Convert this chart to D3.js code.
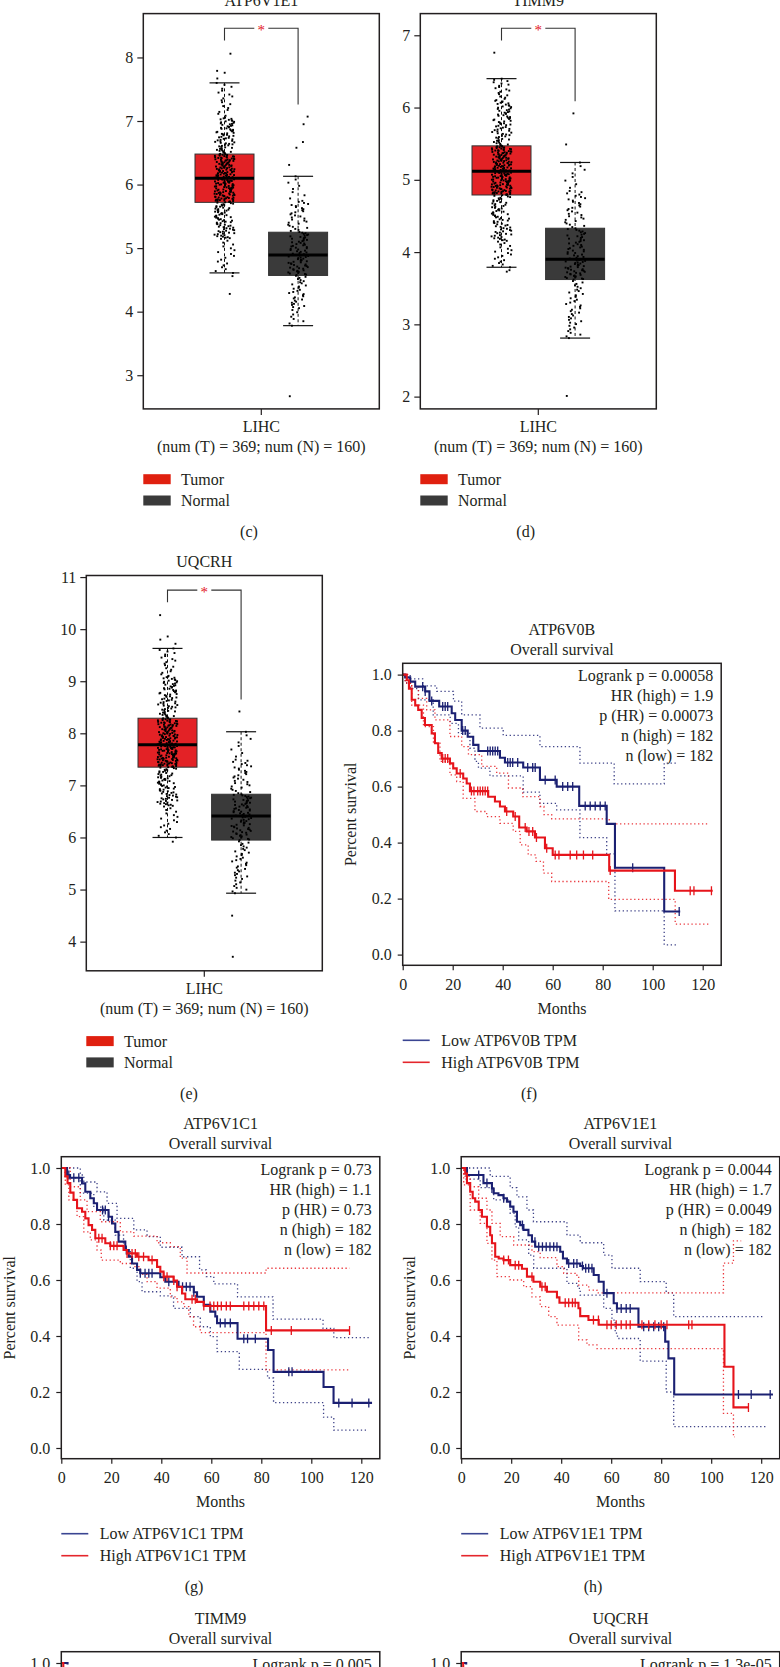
<!DOCTYPE html>
<html>
<head>
<meta charset="utf-8">
<script src="https://cdn.jsdelivr.net/npm/d3@7"></script>
<style>
  body { margin: 0; background: #fff; }
  svg { display: block; }
</style>
</head>
<body>
<div id="chart"></div>
<script>
/* global d3 */

// ---------- data: box plots (LIHC, tumor vs normal) ----------
const boxGenes = ['ATP6V1E1', 'TIMM9', 'UQCRH'];
const boxGroups = ['Tumor', 'Normal'];
const boxCounts = [369, 160];
const boxTicksC = [3, 4, 5, 6, 7, 8];
const boxTicksD = [2, 3, 4, 5, 6, 7];
const boxTicksE = [4, 5, 6, 7, 8, 9, 10, 11];
// [lower whisker, 5th pct, Q1, median, Q3, 95th pct, upper whisker]
const atp6v1e1Tumor = [4.61, 5.15, 5.72, 6.10, 6.48, 7.05, 7.60];
const atp6v1e1Normal = [3.78, 4.05, 4.57, 4.89, 5.25, 5.75, 6.13];
const timm9Tumor = [3.79, 4.15, 4.79, 5.12, 5.47, 6.10, 6.40];
const timm9Normal = [2.81, 3.00, 3.62, 3.90, 4.33, 4.85, 5.24];
const uqcrhTumor = [6.00, 6.60, 7.35, 7.78, 8.29, 9.10, 9.63];
const uqcrhNormal = [4.93, 5.20, 5.95, 6.41, 6.83, 7.50, 8.03];
// points outside the whiskers
const atp6v1e1TumorOut = [8.06, 7.79, 7.76, 7.67, 4.56, 4.28];
const atp6v1e1NormalOut = [7.07, 6.95, 6.67, 6.58, 6.31, 2.67];
const timm9TumorOut = [6.76, 3.75, 3.73];
const timm9NormalOut = [5.92, 5.49, 2.01];
const uqcrhTumorOut = [10.27, 9.86, 9.80, 9.72, 5.92];
const uqcrhNormalOut = [8.42, 4.50, 3.71];

// ---------- data: overall survival (Kaplan-Meier steps [month, survival]) ----------
const monthTicks = [0, 20, 40, 60, 80, 100, 120];
const survTicks = [0, 0.2, 0.4, 0.6, 0.8, 1.0];

const atp6v0bLow = [[0,1],[1,0.99],[3,0.975],[5,0.957],[9,0.94],[10.7,0.906],[14.6,0.886],[19.6,0.862],[21,0.838],[23.6,0.8],[26,0.778],[28.2,0.749],[30.3,0.727],[38.9,0.703],[40.9,0.686],[48.2,0.668],[54.9,0.624],[61.6,0.6],[70.6,0.531],[81.6,0.467],[84.9,0.31],[104.6,0.154],[111,0.154]];
const atp6v0bHigh = [[0,1],[1.6,0.98],[2.5,0.95],[3.6,0.91],[5,0.89],[6.2,0.874],[7.6,0.845],[8.9,0.82],[11.6,0.79],[12.9,0.755],[14.2,0.72],[15.6,0.7],[18.9,0.683],[20.2,0.665],[21.6,0.647],[24.2,0.629],[25.6,0.611],[26.9,0.584],[34.2,0.564],[36.9,0.547],[38.9,0.529],[40.9,0.511],[44.2,0.493],[46.6,0.454],[49.6,0.44],[52.9,0.418],[56.9,0.38],[60,0.356],[82.6,0.3],[108.9,0.228],[124,0.228]];
const atp6v0bLowUp = [[0,1],[3,0.985],[8,0.96],[13.6,0.94],[20.3,0.905],[23.6,0.856],[30.9,0.809],[40.2,0.783],[54.9,0.743],[70.9,0.684],[84.6,0.61],[104.6,0.684],[110,0.684]];
const atp6v0bLowDn = [[0,1],[1,0.97],[3,0.95],[6.3,0.91],[12.2,0.856],[19,0.826],[22.3,0.79],[26.9,0.737],[28.9,0.69],[30.3,0.666],[34.9,0.638],[48.2,0.58],[54.9,0.54],[61.6,0.517],[70.9,0.418],[81.6,0.36],[84.9,0.156],[104.6,0.035],[109.6,0.035]];
const atp6v0bHighUp = [[0,1],[2,0.98],[3,0.96],[6.3,0.915],[9.6,0.874],[12.9,0.838],[18.9,0.779],[23.6,0.743],[26.3,0.714],[31.6,0.672],[37.6,0.648],[42.3,0.595],[48,0.564],[54.9,0.529],[56.5,0.5],[59.6,0.485],[82.6,0.467],[122.3,0.467]];
const atp6v0bHighDn = [[0,1],[1,0.97],[3.6,0.891],[8.3,0.814],[12.3,0.755],[14.9,0.69],[18.9,0.642],[21.6,0.618],[24.2,0.558],[28.9,0.511],[33.6,0.493],[38.9,0.469],[44.2,0.44],[47,0.392],[50.2,0.356],[53.3,0.333],[56.3,0.291],[59.6,0.261],[82.4,0.197],[109,0.109],[122.3,0.109]];
const atp6v0bLowCens = [8, 9, 11.6, 16, 17, 18, 24, 25, 34, 35, 36, 37, 38, 42, 43, 44, 46, 50, 52, 53, 57, 61, 64, 66, 68, 73, 75, 77, 79, 81, 92, 110.6];
const atp6v0bHighCens = [16, 17, 18, 23, 27.5, 28.5, 30, 31, 32, 33, 34, 41.6, 45, 49, 50.5, 52, 53.5, 57.6, 61, 62.5, 67, 69.6, 72.3, 76, 83, 115, 116.5, 123.5];
const atp6v0bStats = ['Logrank p = 0.00058', 'HR (high) = 1.9', 'p (HR) = 0.00073', 'n (high) = 182', 'n (low) = 182'];

const atp6v1c1Low = [[0,1],[2.3,0.975],[3.5,0.965],[8.3,0.945],[9.6,0.915],[11.6,0.892],[13,0.874],[14.3,0.85],[18.9,0.826],[20.3,0.802],[21.6,0.772],[22.9,0.737],[25.6,0.707],[27,0.683],[28.3,0.659],[30.3,0.636],[31.6,0.624],[39.6,0.61],[41.6,0.594],[46.9,0.576],[53,0.556],[54.3,0.54],[57,0.511],[59.6,0.487],[61.6,0.47],[62.3,0.446],[70.5,0.39],[82.7,0.35],[84.9,0.272],[104.9,0.218],[108.9,0.161],[124.3,0.161]];
const atp6v1c1High = [[0,1],[1.6,0.97],[2.5,0.946],[3.6,0.912],[4.9,0.886],[6.3,0.856],[8.3,0.844],[9.6,0.82],[10.9,0.796],[12.3,0.779],[13.6,0.749],[17.6,0.731],[19.6,0.722],[24.9,0.707],[26.3,0.695],[30.3,0.683],[34.9,0.671],[38.3,0.647],[39.6,0.63],[40.9,0.612],[44.9,0.598],[46.3,0.576],[48.3,0.552],[49.6,0.531],[54.3,0.522],[57,0.507],[81.9,0.42],[115.3,0.42]];
const atp6v1c1LowUp = [[0,1],[7.6,0.975],[9,0.95],[14.3,0.915],[18.3,0.874],[22.3,0.82],[29,0.779],[34.3,0.755],[39.6,0.717],[48.3,0.683],[55.3,0.636],[58,0.612],[61,0.586],[70.5,0.54],[84.7,0.46],[104.7,0.427],[109,0.394],[123.6,0.394]];
const atp6v1c1LowDn = [[0,1],[1.6,0.965],[7.6,0.91],[13,0.86],[17,0.814],[21.6,0.76],[24.9,0.707],[27.6,0.642],[30.3,0.594],[32.3,0.558],[39.6,0.543],[44.9,0.499],[51.6,0.469],[55.6,0.433],[59.6,0.398],[62.3,0.344],[71.2,0.281],[82.5,0.25],[84.9,0.162],[104.9,0.11],[109,0.064],[122.3,0.064]];
const atp6v1c1HighUp = [[0,1],[3.6,0.933],[7.6,0.886],[10.3,0.844],[15.6,0.808],[23.6,0.772],[29,0.757],[38.3,0.733],[43.6,0.719],[47.6,0.678],[50.3,0.625],[81.9,0.642],[115.3,0.642]];
const atp6v1c1HighDn = [[0,1],[1.6,0.94],[3,0.886],[6.3,0.826],[9,0.772],[11.6,0.743],[14.3,0.707],[16,0.671],[23.6,0.659],[29,0.648],[31.6,0.62],[34.3,0.594],[38.3,0.571],[43.6,0.54],[46.3,0.522],[49,0.505],[51,0.469],[52.9,0.433],[55.6,0.412],[81.9,0.279],[115.3,0.279]];
const atp6v1c1LowCens = [3, 5, 7, 16.5, 17.6, 18.9, 26, 31.6, 33.5, 35, 36.3, 43, 48.5, 50, 51.5, 53, 63.6, 65.5, 67.6, 73, 74.5, 77.6, 91, 92.3, 111, 116.3, 123];
const atp6v1c1HighCens = [15, 16.3, 19.6, 21, 22.3, 26.3, 28.3, 29.6, 31, 32.9, 36.3, 41, 42.3, 45, 46.3, 52.3, 53.6, 57, 59.5, 61, 62.5, 64, 66, 67.6, 73, 75, 77, 79, 81, 84, 92, 115.3];
const atp6v1c1Stats = ['Logrank p = 0.73', 'HR (high) = 1.1', 'p (HR) = 0.73', 'n (high) = 182', 'n (low) = 182'];

const atp6v1e1Low = [[0,1],[2.3,0.975],[8.9,0.946],[12.3,0.927],[13,0.91],[14.9,0.903],[16.9,0.892],[18.3,0.88],[19.6,0.862],[20.9,0.844],[22.3,0.808],[23.6,0.796],[24.9,0.779],[26.9,0.76],[28.3,0.737],[29.6,0.719],[39.6,0.701],[40.7,0.677],[42.3,0.659],[47.6,0.65],[48.7,0.642],[53,0.618],[55,0.594],[57,0.553],[61,0.517],[62.3,0.498],[70.9,0.433],[81.6,0.38],[82.9,0.32],[85.2,0.191],[124.7,0.191]];
const atp6v1e1High = [[0,1],[1.6,0.98],[2.3,0.946],[3.6,0.915],[4.6,0.892],[5.6,0.88],[7,0.85],[8.3,0.826],[10.3,0.79],[11.6,0.76],[12.3,0.731],[13.6,0.683],[15,0.677],[16.9,0.671],[19.6,0.653],[24.3,0.64],[26.3,0.612],[28.9,0.594],[31.6,0.576],[34.3,0.558],[38.3,0.538],[39.3,0.519],[46.9,0.499],[47.6,0.471],[50.9,0.457],[55,0.44],[105.3,0.29],[108.9,0.145],[114.9,0.145]];
const atp6v1e1LowUp = [[0,1],[11.6,0.97],[19.6,0.93],[22.3,0.897],[26.3,0.85],[28.9,0.808],[42.3,0.76],[47.6,0.733],[57,0.689],[60.3,0.642],[71.6,0.594],[82,0.554],[85,0.469],[120.9,0.469]];
const atp6v1e1LowDn = [[0,1],[2,0.96],[7.6,0.93],[13,0.886],[19.6,0.838],[21.6,0.79],[23,0.743],[27,0.689],[29,0.642],[42.3,0.588],[46.6,0.57],[47.6,0.546],[57,0.499],[60.3,0.457],[61.6,0.41],[62.5,0.391],[71.6,0.31],[82,0.2],[85,0.076],[122.3,0.076]];
const atp6v1e1HighUp = [[0,1],[1,0.97],[3.6,0.933],[7,0.892],[10.3,0.85],[12.3,0.802],[15.6,0.755],[21,0.725],[28.3,0.701],[31.6,0.68],[38.3,0.648],[41,0.624],[45.6,0.617],[47,0.582],[51,0.564],[54.3,0.554],[104.9,0.66],[108.9,0.74],[112,0.74]];
const atp6v1e1HighDn = [[0,1],[1,0.94],[3.6,0.85],[7.6,0.802],[10.3,0.731],[12.3,0.671],[14.3,0.612],[19.6,0.6],[25,0.576],[28.3,0.54],[31.6,0.505],[35,0.469],[38.3,0.439],[47,0.386],[50.3,0.368],[54.3,0.355],[104.9,0.124],[108.9,0.04],[109.5,0.04]];
const atp6v1e1LowCens = [7, 10.3, 12.3, 17, 24.5, 29.5, 31, 32.5, 34, 35.5, 37, 38.3, 43, 45, 46.3, 48.5, 49.8, 51, 52.3, 58.3, 62.3, 64, 66, 67.6, 73, 75, 77, 79, 81, 110.9, 116, 123.6];
const atp6v1e1HighCens = [17, 18.9, 21.6, 23, 28.3, 32.3, 33.6, 41.6, 43, 44.5, 45.6, 52.9, 54.9, 58.3, 60, 62, 64, 66, 67.6, 72.3, 75, 77.5, 80, 82.3, 91, 92.3, 114.9];
const atp6v1e1Stats = ['Logrank p = 0.0044', 'HR (high) = 1.7', 'p (HR) = 0.0049', 'n (high) = 182', 'n (low) = 182'];

// bottom row is cut off by the page: only the start is visible
const timm9Low = [[0,1],[2.5,0.995]];
const timm9High = [[0,1],[0.8,0.985]];
const timm9Stats = ['Logrank p = 0.005'];
const uqcrhLow = [[0,1],[2,0.995]];
const uqcrhHigh = [[0,1],[0.8,0.985]];
const uqcrhStats = ['Logrank p = 1.3e-05'];

// ---------- layout ----------
const W = 780, H = 1667;
const FONT = '"Liberation Serif", "Times New Roman", serif';
const INK = '#231f20';
const RED = '#e32226', GREY = '#3a3a3a';
const KM_BLUE = '#1b2072', KM_RED = '#e6141b';

const svg = d3.select('#chart').append('svg')
  .attr('width', W).attr('height', H)
  .attr('font-family', FONT);
svg.append('rect').attr('width', W).attr('height', H).attr('fill', '#fff');

function label(g, str, x, cy, opts = {}) {
  const size = opts.size || 16;
  return g.append('text')
    .attr('x', x).attr('y', cy + size * 0.34)
    .attr('text-anchor', opts.anchor || 'middle')
    .attr('font-size', size)
    .attr('fill', opts.color || INK)
    .text(str);
}

function styleAxis(ax) {
  ax.attr('font-family', FONT).attr('font-size', 16).attr('color', INK);
  ax.select('.domain').remove();
  ax.selectAll('.tick line').attr('stroke-width', 1.2);
  return ax;
}

// deterministic jitter offset in [-0.5, 0.5)
function jitter(k) {
  const s = Math.sin((k + 1) * 12.9898) * 43758.5453;
  return s - Math.floor(s) - 0.5;
}

// ---------- box plot panels ----------
const boxPanels = [
  { gene: boxGenes[0], left: 143.3, top: 13.6, bottom: 408.9, domain: [2.47, 8.69], ticks: boxTicksC,
    stats: [atp6v1e1Tumor, atp6v1e1Normal], outs: [atp6v1e1TumorOut, atp6v1e1NormalOut], tag: '(c)', tagX: 249 },
  { gene: boxGenes[1], left: 420.3, top: 13.6, bottom: 408.9, domain: [1.83, 7.3], ticks: boxTicksD,
    stats: [timm9Tumor, timm9Normal], outs: [timm9TumorOut, timm9NormalOut], tag: '(d)', tagX: 525.7 },
  { gene: boxGenes[2], left: 86.3, top: 575.5, bottom: 970.8, domain: [3.44, 11.03], ticks: boxTicksE,
    stats: [uqcrhTumor, uqcrhNormal], outs: [uqcrhTumorOut, uqcrhNormalOut], tag: '(e)', tagX: 189 }
];

function drawBox(p) {
  const g = svg.append('g');
  const w = 236;
  const cx = p.left + w / 2;
  const xc = [cx - 36.8, cx + 36.8];
  const bw = 59;
  const y = d3.scaleLinear().domain(p.domain).range([p.bottom, p.top]);

  label(g, p.gene, cx, p.top - 13.5);

  g.append('rect')
    .attr('x', p.left).attr('y', p.top).attr('width', w).attr('height', p.bottom - p.top)
    .attr('fill', 'none').attr('stroke', INK).attr('stroke-width', 1.5);

  const ay = g.append('g').attr('transform', `translate(${p.left},0)`)
    .call(d3.axisLeft(y).tickValues(p.ticks).tickFormat(d3.format('d')).tickSize(6).tickPadding(4));
  styleAxis(ay);
  g.append('line').attr('x1', cx).attr('x2', cx).attr('y1', p.bottom).attr('y2', p.bottom + 6)
    .attr('stroke', INK).attr('stroke-width', 1.2);

  p.stats.forEach((s, i) => {
    const c = xc[i];
    g.append('line').attr('x1', c).attr('x2', c).attr('y1', y(s[6])).attr('y2', y(s[0]))
      .attr('stroke', '#111').attr('stroke-width', 1).attr('stroke-dasharray', '3,2.5');
    [s[0], s[6]].forEach(v => g.append('line')
      .attr('x1', c - 15).attr('x2', c + 15).attr('y1', y(v)).attr('y2', y(v))
      .attr('stroke', '#111').attr('stroke-width', 1.2));
    g.append('rect')
      .attr('x', c - bw / 2).attr('y', y(s[4])).attr('width', bw).attr('height', y(s[2]) - y(s[4]))
      .attr('fill', i === 0 ? RED : GREY).attr('stroke', '#333').attr('stroke-width', 1);
    g.append('line').attr('x1', c - bw / 2).attr('x2', c + bw / 2).attr('y1', y(s[3])).attr('y2', y(s[3]))
      .attr('stroke', '#000').attr('stroke-width', 3);
  });

  // jittered samples: the bulk follows the percentiles, outliers are listed
  p.stats.forEach((s, i) => {
    const inner = boxCounts[i] - p.outs[i].length;
    const q = d3.scaleLinear().domain([0, 0.05, 0.25, 0.5, 0.75, 0.95, 1]).range(s);
    const vals = d3.range(inner).map(k => q(k / (inner - 1))).concat(p.outs[i]);
    g.append('g').selectAll('rect').data(vals).join('rect')
      .attr('x', (d, k) => xc[i] + jitter(k + i * 1000) * 20 - 0.9)
      .attr('y', d => y(d) - 0.9)
      .attr('width', 1.9).attr('height', 1.9)
      .attr('fill', '#000');
  });

  // significance bracket
  const by = p.top + 14.6;
  const mid = (xc[0] + xc[1]) / 2;
  const br = g.append('g').attr('stroke', '#333').attr('stroke-width', 1.1).attr('fill', 'none');
  br.append('path').attr('d', `M${xc[0]},${p.top + 26.8}V${by}H${mid - 7}`);
  br.append('path').attr('d', `M${mid + 7},${by}H${xc[1]}V${y(d3.max(p.outs[1])) - 12}`);
  label(g, '*', mid, by + 2, { size: 15, color: '#e3141c' });

  label(g, 'LIHC', cx, p.bottom + 18);
  label(g, '(num (T) = 369; num (N) = 160)', cx, p.bottom + 38);

  boxGroups.forEach((name, i) => {
    const ly = p.bottom + 70.3 + i * 21.3;
    g.append('rect').attr('x', p.left).attr('y', ly - 5).attr('width', 27.4).attr('height', 10)
      .attr('fill', i === 0 ? '#e0200f' : GREY);
    label(g, name, p.left + 37.7, ly, { anchor: 'start' });
  });

  label(g, p.tag, p.tagX, p.bottom + 123);
}

boxPanels.forEach(drawBox);

// ---------- survival panels ----------
const survPanels = [
  { gene: 'ATP6V0B', left: 402.7, top: 663.3, low: atp6v0bLow, high: atp6v0bHigh,
    ci: [atp6v0bLowUp, atp6v0bLowDn, atp6v0bHighUp, atp6v0bHighDn],
    cens: [atp6v0bLowCens, atp6v0bHighCens], stats: atp6v0bStats, tag: '(f)', tagX: 529 },
  { gene: 'ATP6V1C1', left: 61.3, top: 1156.7, low: atp6v1c1Low, high: atp6v1c1High,
    ci: [atp6v1c1LowUp, atp6v1c1LowDn, atp6v1c1HighUp, atp6v1c1HighDn],
    cens: [atp6v1c1LowCens, atp6v1c1HighCens], stats: atp6v1c1Stats, tag: '(g)', tagX: 194 },
  { gene: 'ATP6V1E1', left: 461.2, top: 1156.7, low: atp6v1e1Low, high: atp6v1e1High,
    ci: [atp6v1e1LowUp, atp6v1e1LowDn, atp6v1e1HighUp, atp6v1e1HighDn],
    cens: [atp6v1e1LowCens, atp6v1e1HighCens], stats: atp6v1e1Stats, tag: '(h)', tagX: 593 },
  { gene: 'TIMM9', left: 61.3, top: 1651.7, low: timm9Low, high: timm9High,
    ci: [], cens: [[], []], stats: timm9Stats, partial: true },
  { gene: 'UQCRH', left: 461.2, top: 1651.7, low: uqcrhLow, high: uqcrhHigh,
    ci: [], cens: [[], []], stats: uqcrhStats, partial: true }
];

function stepValue(steps, t) {
  let s = steps[0][1];
  for (const [tt, v] of steps) { if (tt <= t) s = v; else break; }
  return s;
}

function drawSurvival(p) {
  const g = svg.append('g');
  const w = 318.5, h = 302;
  const x = d3.scaleLinear().domain([0, w / 2.5]).range([p.left, p.left + w]);
  const y = d3.scaleLinear().domain([0, 1]).range([p.top + 291.3, p.top + 11.3]);
  const line = d3.line().x(d => x(d[0])).y(d => y(d[1])).curve(d3.curveStepAfter);

  label(g, p.gene, p.left + w / 2, p.top - 33.3);
  label(g, 'Overall survival', p.left + w / 2, p.top - 13.3);

  const clipId = 'clip-' + p.gene;
  g.append('clipPath').attr('id', clipId).append('rect')
    .attr('x', p.left).attr('y', p.top).attr('width', w).attr('height', h);

  const ticks = p.partial ? survTicks.filter(v => y(v) < H - 2) : survTicks;
  const ay = g.append('g').attr('transform', `translate(${p.left},0)`)
    .call(d3.axisLeft(y).tickValues(ticks).tickFormat(d3.format('.1f')).tickSize(5).tickPadding(6));
  styleAxis(ay);

  if (!p.partial) {
    const ax = g.append('g').attr('transform', `translate(0,${p.top + h})`)
      .call(d3.axisBottom(x).tickValues(monthTicks).tickSize(5).tickPadding(8));
    styleAxis(ax);
    label(g, 'Months', p.left + w / 2, p.top + 345);
    g.append('text')
      .attr('transform', `translate(${p.left - 52},${p.top + 151}) rotate(-90)`)
      .attr('text-anchor', 'middle').attr('dy', '0.34em')
      .attr('font-size', 16).attr('fill', INK)
      .text('Percent survival');
  }

  const plot = g.append('g').attr('clip-path', `url(#${clipId})`);
  const ciColors = [KM_BLUE, KM_BLUE, KM_RED, KM_RED];
  p.ci.forEach((c, i) => plot.append('path').attr('d', line(c))
    .attr('fill', 'none').attr('stroke', ciColors[i]).attr('stroke-width', 1.3)
    .attr('stroke-dasharray', '1.3,2.6').attr('opacity', 0.85));

  [[p.low, KM_BLUE], [p.high, KM_RED]].forEach(([steps, col], i) => {
    plot.append('path').attr('d', line(steps))
      .attr('fill', 'none').attr('stroke', col).attr('stroke-width', 2.1);
    plot.append('g').selectAll('line').data(p.cens[i]).join('line')
      .attr('x1', d => x(d)).attr('x2', d => x(d))
      .attr('y1', d => y(stepValue(steps, d)) - 4.5).attr('y2', d => y(stepValue(steps, d)) + 4.5)
      .attr('stroke', col).attr('stroke-width', 1.3);
  });

  g.append('rect')
    .attr('x', p.left).attr('y', p.top).attr('width', w).attr('height', h)
    .attr('fill', 'none').attr('stroke', INK).attr('stroke-width', 1.5);

  p.stats.forEach((s, i) => label(g, s, p.left + w - 8, p.top + 12.5 + i * 20, { anchor: 'end' }));

  if (!p.partial) {
    [['Low ' + p.gene + ' TPM', '#3a4592'], ['High ' + p.gene + ' TPM', '#e4262c']].forEach(([txt, col], i) => {
      const ly = p.top + 377 + i * 22;
      g.append('line').attr('x1', p.left).attr('x2', p.left + 27).attr('y1', ly).attr('y2', ly)
        .attr('stroke', col).attr('stroke-width', 1.6);
      label(g, txt, p.left + 38.5, ly, { anchor: 'start' });
    });
    label(g, p.tag, p.tagX, p.top + 430);
  }
}

survPanels.forEach(drawSurvival);
</script>
</body>
</html>
